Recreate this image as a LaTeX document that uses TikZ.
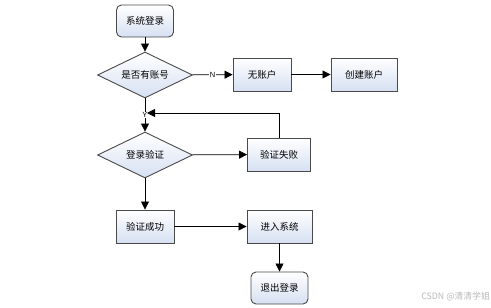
\documentclass[tikz,border=0pt]{standalone}
\usepackage{fontspec}
\setmainfont{Liberation Sans}
\newfontfamily\cjk{Noto Sans CJK SC}
\usetikzlibrary{shapes.geometric,arrows.meta}
\definecolor{edgec}{HTML}{4A4A4A}
\definecolor{shadeb}{HTML}{D6E0F2}
\tikzset{
  base/.style={draw=edgec, line width=0.9pt, top color=white, bottom color=shadeb, font=\cjk\fontsize{9.5}{11}\selectfont, inner sep=0pt},
  procbox/.style={base, rectangle, minimum width=58pt, minimum height=33pt},
  termbox/.style={base, rectangle, rounded corners=5pt, minimum width=57pt, minimum height=32pt},
  decbox/.style={base, diamond, minimum width=95pt, minimum height=46pt, aspect=2.06},
  arr/.style={draw=black, line width=0.8pt, -{Triangle[length=8pt,width=8pt]}},
  lab/.style={font=\fontsize{7.5}{9}\selectfont, fill=white, inner sep=0.5pt},
}
\begin{document}
\begin{tikzpicture}[x=1pt,y=-1pt]
\useasboundingbox (0,0) rectangle (491,308);
\node[termbox] (start) at (145,21) {系统登录};
\node[decbox] (d1) at (145,75) {是否有账号};
\node[procbox] (noacc) at (262,74.5) {无账户};
\node[procbox, minimum width=66pt] (create) at (364,74.5) {创建账户};
\node[decbox] (d2) at (145,155) {登录验证};
\node[procbox, minimum width=63pt] (fail) at (279,154.5) {验证失败};
\node[procbox] (ok) at (145,226.5) {验证成功};
\node[procbox, minimum width=65pt] (enter) at (279.5,226.5) {进入系统};
\node[termbox] (quit) at (279.5,288) {退出登录};
\coordinate (join) at (147,113);
\node[font=\cjk\fontsize{8.8}{10}\selectfont, text=black!28, anchor=east, inner sep=0pt] (wm) at (490,297) {CSDN @清清学姐};

\draw[arr] (start) -- (d1);
\draw[arr] (d1) -- node[lab]{N} (noacc);
\draw[arr] (noacc) -- (create);
\draw[arr] (d1) -- node[lab, pos=0.5]{Y} (d2);
\draw[arr] (fail.north) |- (join);
\draw[arr] (d2) -- (fail);
\draw[arr] (d2) -- (ok);
\draw[arr] (ok) -- (enter);
\draw[arr] (enter) -- (quit);
\end{tikzpicture}
\end{document}
